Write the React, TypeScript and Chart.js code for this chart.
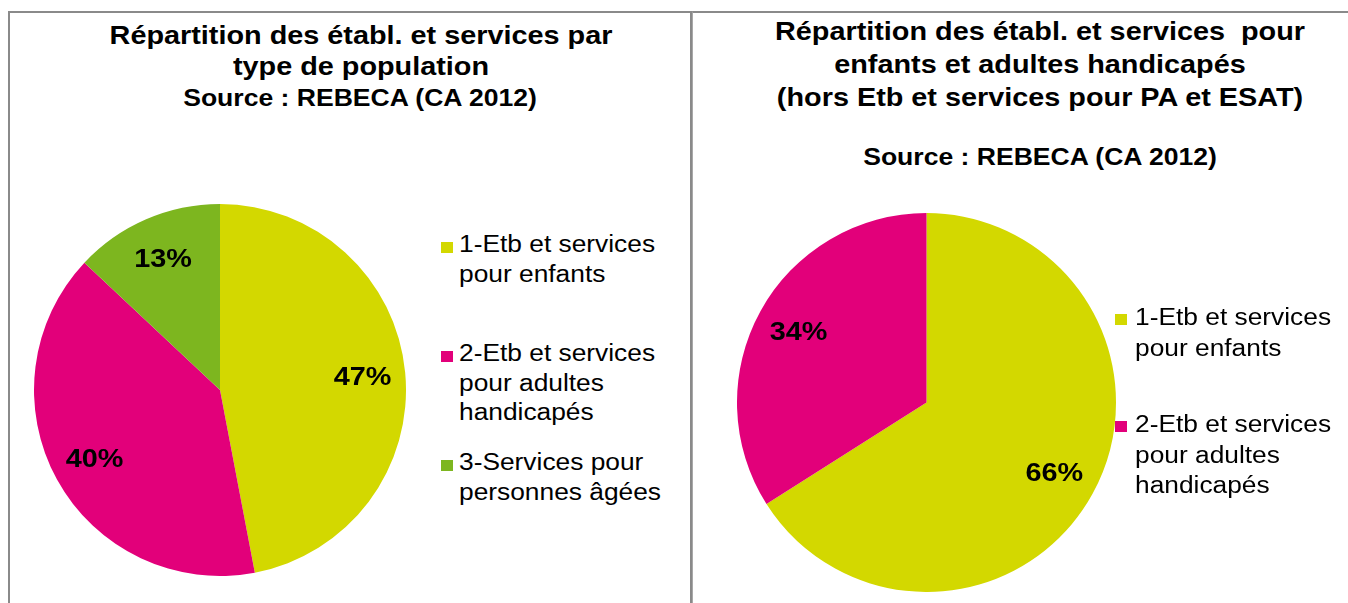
import React, { useEffect, useRef } from "react";
import { Chart, registerables } from "chart.js";

Chart.register(...registerables);

// ---------- Data ----------
const leftTitleLines = ["Répartition des établ. et services par", "type de population"];
const leftSourceLine = "Source : REBECA (CA 2012)";
const leftCategories = [
  ["1-Etb et services", "pour enfants"],
  ["2-Etb et services", "pour adultes", "handicapés"],
  ["3-Services pour", "personnes âgées"],
];
const leftValues = [47, 40, 13];
const leftColors = ["#D3D800", "#E2007A", "#7DB61F"];

const rightTitleLines = [
  "Répartition des établ. et services  pour",
  "enfants et adultes handicapés",
  "(hors Etb et services pour PA et ESAT)",
];
const rightSourceLine = "Source : REBECA (CA 2012)";
const rightCategories = [
  ["1-Etb et services", "pour enfants"],
  ["2-Etb et services", "pour adultes", "handicapés"],
];
const rightValues = [66, 34];
const rightColors = ["#D3D800", "#E2007A"];

const FONT = '"Liberation Sans", Arial, Helvetica, sans-serif';
const STRETCH = 1.13;

const percentLabels = {
  id: "percentLabels",
  afterDatasetsDraw(chart: any) {
    const ctx = chart.ctx;
    const meta = chart.getDatasetMeta(0);
    const data = chart.data.datasets[0].data;
    ctx.save();
    ctx.fillStyle = "#000";
    ctx.font = `bold 25.5px ${FONT}`;
    ctx.textAlign = "center";
    ctx.textBaseline = "middle";
    meta.data.forEach((arc: any, i: number) => {
      const p = arc.getProps(["x", "y", "startAngle", "endAngle", "outerRadius"], true);
      const mid = (p.startAngle + p.endAngle) / 2;
      const r = p.outerRadius * 0.77;
      const x = p.x + Math.cos(mid) * r;
      const y = p.y + Math.sin(mid) * r;
      ctx.save();
      ctx.translate(x, y);
      ctx.scale(STRETCH, 1);
      ctx.fillText(`${data[i]}%`, 0, 1);
      ctx.restore();
    });
    ctx.restore();
  },
};

function Pie({ values, colors, labels, size, left, top }: any) {
  const ref = useRef<HTMLCanvasElement | null>(null);
  useEffect(() => {
    if (!ref.current) return;
    const chart = new Chart(ref.current, {
      type: "pie",
      data: {
        labels: labels.map((l: string[]) => l.join(" ")),
        datasets: [
          {
            data: values,
            backgroundColor: colors,
            borderWidth: 0,
          },
        ],
      },
      options: {
        responsive: false,
        animation: false,
        devicePixelRatio: 1,
        layout: { padding: 0 },
        plugins: {
          legend: { display: false },
          title: { display: false },
          tooltip: { enabled: false },
        },
      },
      plugins: [percentLabels],
    });
    return () => chart.destroy();
  }, []);
  return (
    <canvas
      ref={ref}
      width={size}
      height={size}
      style={{ position: "absolute", left, top, width: size, height: size, display: "block" }}
    />
  );
}

function CenterLine({ text, cx, cy, size }: any) {
  return (
    <div
      style={{
        position: "absolute",
        left: cx,
        top: cy - 16,
        height: 32,
        lineHeight: "32px",
        whiteSpace: "pre",
        font: `bold ${size}px ${FONT}`,
        color: "#000",
        transform: `translateX(-50%) scaleX(${STRETCH})`,
      }}
    >
      {text}
    </div>
  );
}

function Legend({ items, colors, squareLeft, textLeft, top, pitch, lineHeight }: any) {
  return (
    <>
      {items.map((lines: string[], i: number) => (
        <React.Fragment key={i}>
          <div
            style={{
              position: "absolute",
              left: squareLeft,
              top: top + i * pitch + lineHeight / 2 - 3,
              width: 12,
              height: 11,
              background: colors[i],
            }}
          />
          <div
            style={{
              position: "absolute",
              left: textLeft,
              top: top + i * pitch,
              font: `23.3px ${FONT}`,
              lineHeight: `${lineHeight}px`,
              color: "#000",
              whiteSpace: "nowrap",
              transformOrigin: "0 0",
              transform: `scaleX(${STRETCH})`,
            }}
          >
            {lines.map((l, j) => (
              <div key={j}>{l}</div>
            ))}
          </div>
        </React.Fragment>
      ))}
    </>
  );
}

export default function App() {
  useEffect(() => {
    document.body.style.margin = "0";
  }, []);
  return (
    <div
      style={{
        position: "fixed",
        left: 0,
        top: 0,
        width: 1348,
        height: 603,
        overflow: "hidden",
        background: "#fff",
      }}
    >
      {/* panel frames */}
      <div
        style={{
          position: "absolute",
          left: 8,
          top: 11,
          width: 680,
          height: 620,
          borderLeft: "2px solid #8a8a8a",
          borderTop: "2px solid #8a8a8a",
          borderRight: "2px solid #8a8a8a",
        }}
      />
      <div
        style={{
          position: "absolute",
          left: 692,
          top: 11,
          width: 700,
          height: 620,
          borderLeft: "1px solid #a8a8a8",
          borderTop: "2px solid #8a8a8a",
        }}
      />

      {/* left chart */}
      {leftTitleLines.map((t, i) => (
        <CenterLine key={i} text={t} cx={361} cy={37 + i * 31} size={25.5} />
      ))}
      <CenterLine text={leftSourceLine} cx={360} cy={101} size={23.5} />
      <Pie values={leftValues} colors={leftColors} labels={leftCategories} size={372} left={34} top={204} />
      <Legend
        items={leftCategories}
        colors={leftColors}
        squareLeft={441}
        textLeft={459}
        top={230}
        pitch={109}
        lineHeight={29.5}
      />

      {/* right chart */}
      {rightTitleLines.map((t, i) => (
        <CenterLine key={i} text={t} cx={1040} cy={33 + i * 33} size={25.5} />
      ))}
      <CenterLine text={rightSourceLine} cx={1040} cy={160} size={23.5} />
      <Pie values={rightValues} colors={rightColors} labels={rightCategories} size={379} left={737} top={213} />
      <Legend
        items={rightCategories}
        colors={rightColors}
        squareLeft={1115}
        textLeft={1135}
        top={302}
        pitch={107}
        lineHeight={30.5}
      />
    </div>
  );
}
